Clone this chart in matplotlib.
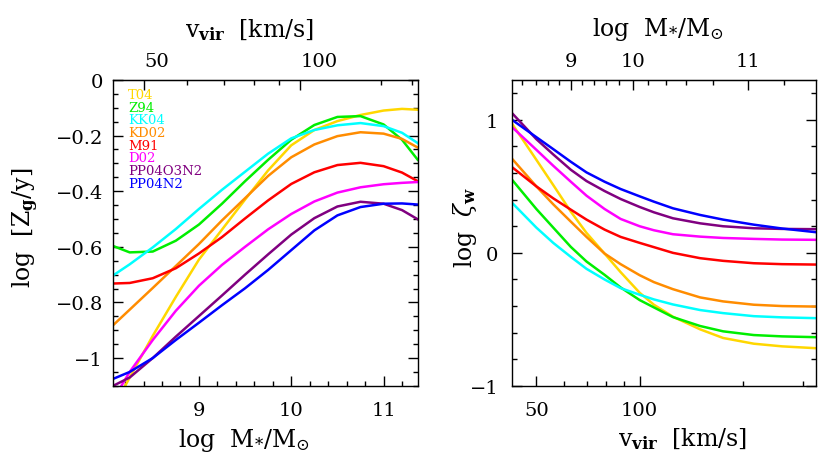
import numpy as np
import matplotlib
matplotlib.use('Agg')
import matplotlib.pyplot as plt
from matplotlib.ticker import NullFormatter

plt.rcParams['font.family'] = 'DejaVu Serif'
plt.rcParams['mathtext.fontset'] = 'dejavuserif'

# calibrations, in legend order
names = ['T04', 'Z94', 'KK04', 'KD02', 'M91', 'D02', 'PP04O3N2', 'PP04N2']
colors = ['#ffd700', '#00ee00', '#00ffff', '#ff8c00', '#ff0000', '#ff00ff', '#800080', '#0000ff']

# left panel: log Zg/y against log M*/Msun
logm = [8.07, 8.25, 8.5, 8.75, 9.0, 9.25, 9.5, 9.75, 10.0, 10.25, 10.5, 10.75, 11.0, 11.2, 11.37]
zg_t04 = [-1.18, -1.07, -0.92, -0.78, -0.646, -0.538, -0.43, -0.325, -0.235, -0.18, -0.148, -0.126, -0.11, -0.104, -0.107]
zg_z94 = [-0.597, -0.62, -0.617, -0.578, -0.52, -0.445, -0.364, -0.287, -0.215, -0.162, -0.133, -0.13, -0.16, -0.215, -0.287]
zg_kk04 = [-0.703, -0.663, -0.602, -0.536, -0.464, -0.395, -0.33, -0.265, -0.21, -0.18, -0.163, -0.155, -0.166, -0.19, -0.227]
zg_kd02 = [-0.882, -0.826, -0.748, -0.669, -0.59, -0.505, -0.425, -0.345, -0.278, -0.232, -0.202, -0.188, -0.193, -0.212, -0.243]
zg_m91 = [-0.732, -0.73, -0.713, -0.677, -0.624, -0.565, -0.498, -0.433, -0.374, -0.332, -0.306, -0.298, -0.31, -0.333, -0.364]
zg_d02 = [-1.15, -1.05, -0.935, -0.83, -0.74, -0.665, -0.60, -0.537, -0.482, -0.437, -0.405, -0.386, -0.375, -0.37, -0.367]
zg_pp04o3n2 = [-1.10, -1.07, -1.0, -0.923, -0.849, -0.775, -0.70, -0.627, -0.556, -0.497, -0.455, -0.438, -0.445, -0.468, -0.501]
zg_pp04n2 = [-1.075, -1.05, -1.0, -0.935, -0.873, -0.81, -0.749, -0.683, -0.612, -0.541, -0.487, -0.457, -0.445, -0.444, -0.448]

# right panel: log zeta_w against v_vir
vvir = [42.5, 50, 56, 63, 70, 79, 88, 100, 110, 125, 150, 175, 215, 260, 327]
zw_t04 = [0.97, 0.70, 0.51, 0.31, 0.15, -0.005, -0.145, -0.30, -0.39, -0.48, -0.575, -0.64, -0.683, -0.703, -0.717]
zw_z94 = [0.549, 0.33, 0.19, 0.045, -0.065, -0.165, -0.26, -0.355, -0.41, -0.483, -0.55, -0.59, -0.618, -0.628, -0.634]
zw_kk04 = [0.376, 0.19, 0.075, -0.03, -0.12, -0.20, -0.265, -0.315, -0.35, -0.388, -0.43, -0.453, -0.476, -0.485, -0.491]
zw_kd02 = [0.707, 0.50, 0.365, 0.235, 0.12, -0.005, -0.085, -0.168, -0.22, -0.273, -0.335, -0.365, -0.39, -0.40, -0.404]
zw_m91 = [0.644, 0.50, 0.41, 0.325, 0.25, 0.175, 0.12, 0.075, 0.043, 0.0, -0.04, -0.06, -0.078, -0.085, -0.088]
zw_d02 = [0.945, 0.775, 0.655, 0.535, 0.43, 0.33, 0.255, 0.20, 0.17, 0.14, 0.122, 0.112, 0.105, 0.10, 0.098]
zw_pp04o3n2 = [1.05, 0.855, 0.74, 0.625, 0.54, 0.465, 0.405, 0.345, 0.305, 0.26, 0.222, 0.20, 0.185, 0.18, 0.178]
zw_pp04n2 = [1.0, 0.87, 0.78, 0.685, 0.605, 0.535, 0.48, 0.425, 0.385, 0.335, 0.285, 0.25, 0.212, 0.183, 0.155]

# v_vir <-> log M* correspondence
map_vvir = [42.5, 50, 60, 70, 80, 90, 100, 119, 136, 164, 200, 300, 330]
map_mstar = [8.05, 8.41, 8.87, 9.27, 9.60, 9.87, 10.10, 10.40, 10.60, 10.80, 10.97, 11.31, 11.40]

zg_all = [zg_t04, zg_z94, zg_kk04, zg_kd02, zg_m91, zg_d02, zg_pp04o3n2, zg_pp04n2]
zw_all = [zw_t04, zw_z94, zw_kk04, zw_kd02, zw_m91, zw_d02, zw_pp04o3n2, zw_pp04n2]

logv_tab = np.log10(map_vvir)


def m_to_v(m):
    return 10 ** np.interp(m, map_mstar, logv_tab)


def v_to_m(v):
    return np.interp(np.log10(np.clip(v, 1e-3, None)), logv_tab, map_mstar)


def style(ax):
    ax.tick_params(which='both', direction='in', width=1, top=False, right=True, labelsize=14)
    ax.tick_params(which='major', length=7, pad=7)
    ax.tick_params(which='minor', length=3.5)
    for s in ax.spines.values():
        s.set_linewidth(1)


def style_top(sec):
    sec.xaxis.set_minor_formatter(NullFormatter())
    sec.tick_params(which='both', direction='in', width=1, labelsize=14, pad=7)
    sec.tick_params(which='major', length=7)
    sec.tick_params(which='minor', length=3.5)


fig = plt.figure(figsize=(8.3, 4.6), dpi=100)
ax1 = fig.add_axes([0.136, 0.159, 0.3675, 0.665])
ax2 = fig.add_axes([0.617, 0.159, 0.3665, 0.665])

# left panel
for z, c in zip(zg_all, colors):
    ax1.plot(logm, z, color=c, lw=1.8)
ax1.set_xlim(8.068, 11.372)
ax1.set_ylim(-1.1, 0)
ax1.set_xticks([9, 10, 11], labels=['9', '10', '11'])
ax1.set_xticks(np.arange(8.2, 11.3, 0.2), minor=True)
ax1.set_yticks([0, -0.2, -0.4, -0.6, -0.8, -1],
               labels=['0', '\u22120.2', '\u22120.4', '\u22120.6', '\u22120.8', '\u22121'])
ax1.set_yticks(np.arange(-1.1, 0.001, 0.05), minor=True)
ax1.xaxis.set_minor_formatter(NullFormatter())
style(ax1)
ax1.tick_params(axis='x', pad=11)
ax1.set_xlabel(r'$\mathrm{log}\ \ \mathrm{M}_{*}/\mathrm{M}_{\odot}$', fontsize=17)
ax1.xaxis.set_label_coords(0.43, -0.13)
ax1.set_ylabel(r'$\mathrm{log}\ \ [\mathrm{Z}_{\mathbf{g}}/\mathrm{y}]$', fontsize=17)
ax1.yaxis.set_label_coords(-0.235, 0.52)

for i, (n, c) in enumerate(zip(names, colors)):
    ax1.text(0.05, 0.953 - i * 0.0415, n, color=c, fontsize=9.5, transform=ax1.transAxes,
             va='center', ha='left')

top1 = ax1.secondary_xaxis('top', functions=(m_to_v, v_to_m))
top1.set_xticks([50, 100], labels=['50', '100'])
top1.set_xticks([60, 70, 80, 90, 200, 300], minor=True)
style_top(top1)
for lab in top1.get_xticklabels():
    lab.set_ha('left')
fig.text(0.301, 0.935, r'$\mathrm{v}_{\mathbf{vir}}\ \ [\mathrm{km/s}]$', fontsize=17,
         ha='center', va='center')

# right panel
for z, c in zip(zw_all, colors):
    ax2.plot(vvir, z, color=c, lw=1.8)
ax2.set_xscale('log')
ax2.set_xlim(42.5, 327)
ax2.set_ylim(-1, 1.3)
ax2.set_xticks([50, 100], labels=['50', '100'])
ax2.set_xticks([60, 70, 80, 90, 200, 300], minor=True)
ax2.xaxis.set_minor_formatter(NullFormatter())
ax2.set_yticks([-1, 0, 1], labels=['\u22121', '0', '1'])
ax2.set_yticks(np.arange(-0.8, 1.3, 0.2), minor=True)
style(ax2)
ax2.tick_params(axis='x', pad=11)
ax2.tick_params(axis='y', pad=10)
ax2.set_xlabel(r'$\mathrm{v}_{\mathbf{vir}}\ \ [\mathrm{km/s}]$', fontsize=17)
ax2.xaxis.set_label_coords(0.56, -0.13)
ax2.set_ylabel(r'$\mathrm{log}\ \ \zeta_{\mathbf{w}}$', fontsize=17)
ax2.yaxis.set_label_coords(-0.11, 0.52)

top2 = ax2.secondary_xaxis('top', functions=(v_to_m, m_to_v))
top2.set_xticks([9, 10, 11], labels=['9', '10', '11'])
top2.set_xticks([8.2, 8.4, 8.6, 8.8, 9.2, 9.4, 9.6, 9.8, 10.2, 10.4, 10.6, 10.8, 11.2], minor=True)
style_top(top2)
fig.text(0.793, 0.935, r'$\mathrm{log}\ \ \mathrm{M}_{*}/\mathrm{M}_{\odot}$', fontsize=17,
         ha='center', va='center')

fig.savefig('out.png', dpi=100)
